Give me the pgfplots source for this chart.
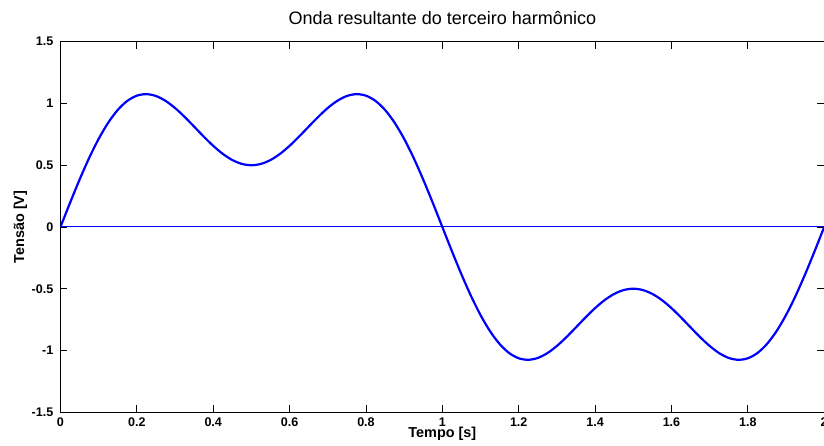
\documentclass[border=0pt]{standalone}
\usepackage{fontspec}
\setmainfont{Liberation Sans}
\usepackage{pgfplots}
\pgfplotsset{compat=1.18}

\begin{document}
\begin{tikzpicture}
\begin{axis}[
  name=ax,
  width=762.8pt, height=370pt, scale only axis,
  xmin=0, xmax=2, ymin=-1.5, ymax=1.5,
  xtick={0,0.2,0.4,0.6,0.8,1,1.2,1.4,1.6,1.8,2},
  xticklabels={0,0.2,0.4,0.6,0.8,1,1.2,1.4,1.6,1.8,2},
  ytick={-1.5,-1,-0.5,0,0.5,1,1.5},
  yticklabels={-1.5,-1,-0.5,0,0.5,1,1.5},
  tick align=inside, major tick length=7pt,
  axis line style={line width=1.3pt},
  every tick/.style={black, line width=0.8pt},
  tick label style={font=\fontsize{12.5}{14}\selectfont\bfseries},
  xticklabel style={anchor=north, inner sep=0pt, yshift=-5pt},
  yticklabel style={anchor=east, inner sep=0pt, xshift=-7pt},
  title={Onda resultante do terceiro harmônico},
  title style={at={(0.5,1.0316)}, anchor=base, inner sep=0pt, font=\fontsize{18}{20}\selectfont},
  xlabel={Tempo [s]},
  xlabel style={at={(0.5,-0.0676)}, anchor=base, inner sep=0pt, font=\fontsize{14.4}{16}\selectfont\bfseries},
  ylabel={Tensão [V]},
  ylabel style={at={(-0.0477,0.5)}, anchor=base, inner sep=0pt, rotate=0, font=\fontsize{14.4}{16}\selectfont\bfseries},
]
% eixo zero
\addplot[blue, line width=1pt] coordinates {(0,0) (2,0)};
% onda resultante
\addplot[blue, line width=2.2pt, smooth] table {
t v
0 0
0.025 0.1952
0.05 0.3834
0.075 0.5582
0.1 0.7135
0.125 0.8446
0.15 0.9478
0.175 1.0210
0.2 1.0633
0.225 1.0758
0.25 1.0607
0.275 1.0217
0.3 0.9635
0.325 0.8919
0.35 0.8128
0.375 0.7325
0.4 0.6572
0.425 0.5922
0.45 0.5422
0.475 0.5107
0.5 0.5
0.525 0.5107
0.55 0.5422
0.575 0.5922
0.6 0.6572
0.625 0.7325
0.65 0.8128
0.675 0.8919
0.7 0.9635
0.725 1.0217
0.75 1.0607
0.775 1.0758
0.8 1.0633
0.825 1.0210
0.85 0.9478
0.875 0.8446
0.9 0.7135
0.925 0.5582
0.95 0.3834
0.975 0.1952
1 0
1.025 -0.1952
1.05 -0.3834
1.075 -0.5582
1.1 -0.7135
1.125 -0.8446
1.15 -0.9478
1.175 -1.0210
1.2 -1.0633
1.225 -1.0758
1.25 -1.0607
1.275 -1.0217
1.3 -0.9635
1.325 -0.8919
1.35 -0.8128
1.375 -0.7325
1.4 -0.6572
1.425 -0.5922
1.45 -0.5422
1.475 -0.5107
1.5 -0.5
1.525 -0.5107
1.55 -0.5422
1.575 -0.5922
1.6 -0.6572
1.625 -0.7325
1.65 -0.8128
1.675 -0.8919
1.7 -0.9635
1.725 -1.0217
1.75 -1.0607
1.775 -1.0758
1.8 -1.0633
1.825 -1.0210
1.85 -0.9478
1.875 -0.8446
1.9 -0.7135
1.925 -0.5582
1.95 -0.3834
1.975 -0.1952
2 0
};
\end{axis}
% recorte como na figura original (borda direita cortada)
\pgfresetboundingbox
\path[use as bounding box] ([shift={(-60.4pt,-33.3pt)}]ax.south west) rectangle ([shift={(762.6pt,411.7pt)}]ax.south west);
\end{tikzpicture}
\end{document}
